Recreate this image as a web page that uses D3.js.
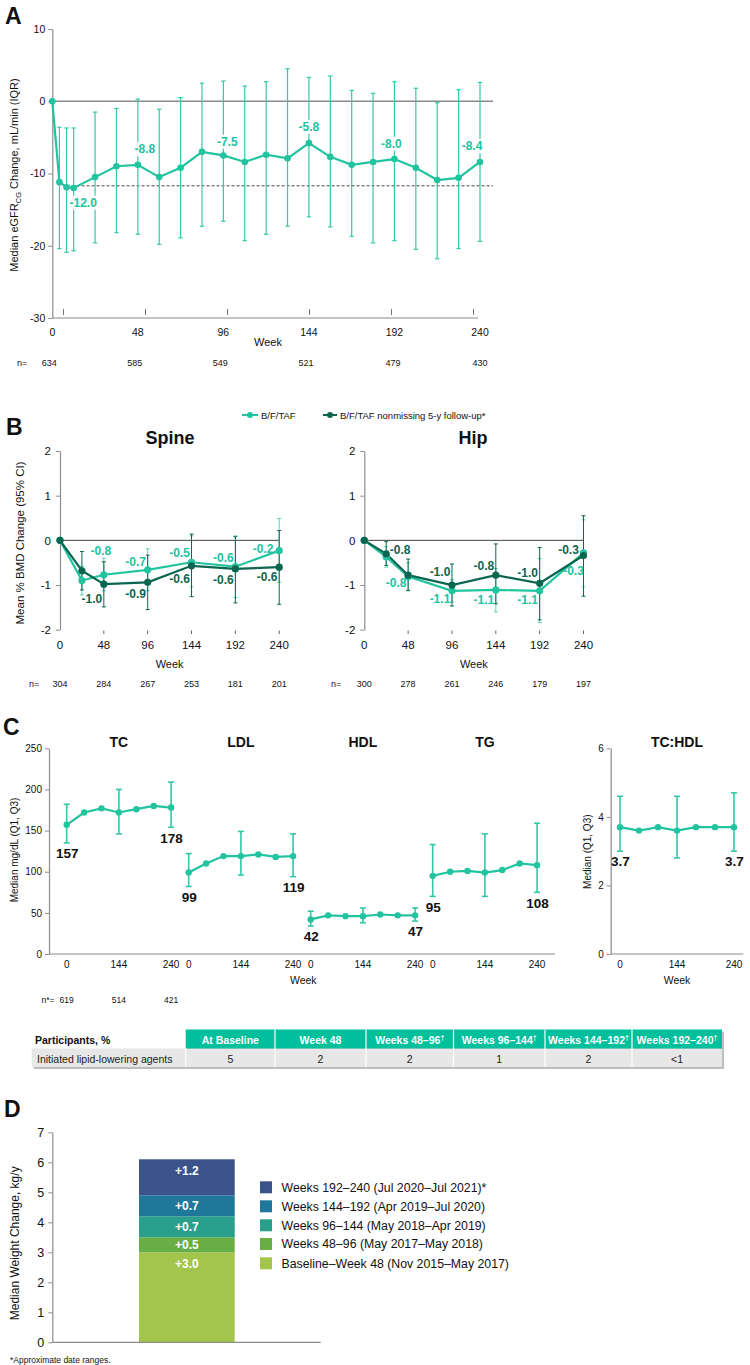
<!DOCTYPE html>
<html><head><meta charset="utf-8">
<script src="https://cdn.jsdelivr.net/npm/d3@7"></script>
<style>body{margin:0;background:#fff} svg text{font-family:"Liberation Sans",Arial,sans-serif}</style>
</head><body><svg id="c" width="750" height="1365"></svg>
<script>
// ---------- DATA ----------
// Panel A: eGFR
const weeksA = [0,4,8,12,24,36,48,60,72,84,96,108,120,132,144,156,168,180,192,204,216,228,240];
const medianA = [0,-11.2,-11.9,-12.0,-10.5,-9.0,-8.8,-10.5,-9.2,-7.0,-7.5,-8.4,-7.4,-7.9,-5.8,-7.7,-8.8,-8.4,-8.0,-9.2,-10.9,-10.6,-8.4];
const q1A = [null,-20.4,-20.9,-20.7,-19.6,-18.2,-18.4,-19.8,-18.9,-17.3,-16.6,-19.3,-18.4,-17.3,-16.0,-17.4,-18.7,-19.6,-19.3,-20.5,-21.8,-20.4,-19.4];
const q3A = [null,-3.6,-3.7,-3.7,-1.5,-1.0,0.3,-1.1,0.5,2.5,2.8,2.1,2.7,4.5,3.3,3.5,1.5,1.1,2.7,1.8,-0.2,1.6,2.6];
const refLineA = -11.7;
const labelWeeksA = [12,48,96,144,192,240];
const xTicksA = [0,48,96,144,192,240];
const yTicksA = [10,0,-10,-20,-30];
const nA = ["634","585","549","521","479","430"];

// Panel B: BMD
const weeksB = [0,24,48,96,144,192,240];
const seriesB = ["B/F/TAF","B/F/TAF nonmissing 5-y follow-up*"];
const spineAll = [0,-0.9,-0.77,-0.66,-0.49,-0.59,-0.23];
const spineAllLo = [null,-1.22,-1.13,-1.13,-1.04,-1.28,-0.94];
const spineAllHi = [null,-0.58,-0.4,-0.19,0.1,0.1,0.49];
const spine5y = [0,-0.68,-0.98,-0.94,-0.57,-0.64,-0.6];
const spine5yLo = [null,-1.11,-1.49,-1.55,-1.26,-1.4,-1.43];
const spine5yHi = [null,-0.25,-0.48,-0.33,0.14,0.08,0.22];
const hipAll = [0,-0.37,-0.81,-1.13,-1.11,-1.13,-0.28];
const hipAllLo = [null,-0.6,-1.13,-1.38,-1.6,-1.84,-1.04];
const hipAllHi = [null,-0.14,-0.5,-0.88,-0.63,-0.41,0.46];
const hip5y = [0,-0.3,-0.78,-1.0,-0.78,-0.96,-0.34];
const hip5yLo = [null,-0.56,-1.12,-1.47,-1.42,-1.78,-1.25];
const hip5yHi = [null,-0.03,-0.42,-0.53,-0.08,-0.16,0.55];
const xTicksB = [0,48,96,144,192,240];
const yTicksB = [2,1,0,-1,-2];
const nSpine = ["304","284","267","253","181","201"];
const nHip = ["300","278","261","246","179","197"];

// Panel C: lipids
const lipidNames = ["TC","LDL","HDL","TG"];
const lipidMedians = [
  [157,172,177,172,176,180,178],
  [99,110,119,119,121,118,119],
  [42,47,46,46,48,47,47],
  [95,100,101,99,102,110,108]
];
const lipidQ1 = [[135,146,154],[82,96,94],[34,38,40],[70,70,75]];
const lipidQ3 = [[182,200,209],[122,149,146],[52,56,56],[133,146,159]];
const ratioMedian = [3.7,3.6,3.7,3.6,3.7,3.7,3.7];
const ratioQ1 = [3.0,2.8,3.0];
const ratioQ3 = [4.6,4.6,4.7];
const barIdxC = [0,3,6];
const visitTicksC = ["0","144","240"];
const yTicksC = [0,50,100,150,200,250];
const yTicksRatio = [0,2,4,6];
const nC = ["619","514","421"];

// Table
const tableHeaders = ["At Baseline","Week 48","Weeks 48–96","Weeks 96–144","Weeks 144–192","Weeks 192–240"];
const tableDagger = [false,false,true,true,true,true];
const tableValues = ["5","2","2","1","2","<1"];

// Panel D: weight
const weightPeriods = ["Baseline–Week 48 (Nov 2015–May 2017)","Weeks 48–96 (May 2017–May 2018)","Weeks 96–144 (May 2018–Apr 2019)","Weeks 144–192 (Apr 2019–Jul 2020)","Weeks 192–240 (Jul 2020–Jul 2021)*"];
const weightValues = [3.0,0.5,0.7,0.7,1.2];
const yTicksD = [0,1,2,3,4,5,6,7];

// ---------- STYLE ----------
const TEAL = "#22c39f", TEAL_BAR = "#33c8a7", DARK = "#0b6650", AX = "#8c8c8c";
const weightColors = ["#a3c54b","#69ae45","#2a9f8b","#1f7899","#3b5389"];
const svg = d3.select("#c");
svg.append("rect").attr("width",750).attr("height",1365).attr("fill","#fff");
const fmt1 = v => v.toFixed(1);

function txt(g,x,y,s,o={}){
  const t = g.append("text").attr("x",x).attr("y",y).text(s)
    .attr("font-size",o.size||11).attr("fill",o.fill||"#111")
    .attr("text-anchor",o.anchor||"start");
  if(o.bold) t.attr("font-weight","bold");
  if(o.mid) t.attr("dy","0.35em");
  return t;
}
function styleAxis(sel,fs){
  sel.select(".domain").attr("stroke",AX).attr("stroke-width",1.2);
  sel.selectAll(".tick line").attr("stroke",AX);
  sel.selectAll(".tick text").attr("font-size",fs).attr("fill","#111")
     .style("font-family","'Liberation Sans',Arial,sans-serif");
}
function errBar(g,x,lo,hi,color,cap,sw){
  g.append("line").attr("x1",x).attr("x2",x).attr("y1",lo).attr("y2",hi).attr("stroke",color).attr("stroke-width",sw);
  [lo,hi].forEach(yy=>g.append("line").attr("x1",x-cap).attr("x2",x+cap).attr("y1",yy).attr("y2",yy).attr("stroke",color).attr("stroke-width",sw));
}

// ---------- PANEL A ----------
{
  const g = svg.append("g");
  const x = d3.scaleLinear().domain([0,240]).range([52.3,480]);
  const y = d3.scaleLinear().domain([-30,10]).range([318,29]);
  const tickX = d3.scaleLinear().domain([0,240]).range([63.5,473.5]);
  txt(g,5,24,"A",{size:23,bold:true});
  g.append("g").attr("transform","translate(52.3,0)")
    .call(d3.axisLeft(y).tickValues(yTicksA).tickFormat(d=>String(d)).tickSize(4).tickSizeOuter(0).tickPadding(3))
    .call(s=>styleAxis(s,10.5));
  g.append("line").attr("x1",52.3).attr("x2",478).attr("y1",y(-30)).attr("y2",y(-30)).attr("stroke",AX).attr("stroke-width",1.2);
  xTicksA.forEach(w=>{
    g.append("line").attr("x1",tickX(w)).attr("x2",tickX(w)).attr("y1",y(-30)-9).attr("y2",y(-30)-3).attr("stroke","#777");
    txt(g,x(w),336,String(w),{size:10.5,anchor:"middle"});
  });
  txt(g,268,345.5,"Week",{size:11,anchor:"middle"});
  txt(g,17,366,"n=",{size:9});
  xTicksA.forEach((w,i)=>txt(g,x(w)-3+ (i>3? (i-3)*1.5:0),366,nA[i],{size:9,anchor:"middle"}));
  // y label
  const yl = g.append("text").attr("transform","translate(18,175) rotate(-90)").attr("text-anchor","middle").attr("font-size",11).attr("fill","#111");
  yl.append("tspan").text("Median eGFR");
  yl.append("tspan").text("CG").attr("font-size",7.5).attr("dy",2.5);
  yl.append("tspan").text(" Change, mL/min (IQR)").attr("dy",-2.5);
  // zero & ref lines
  g.append("line").attr("x1",52.3).attr("x2",493).attr("y1",y(0)).attr("y2",y(0)).attr("stroke","#8a8a8a").attr("stroke-width",1.6);
  g.append("line").attr("x1",x(8)).attr("x2",493).attr("y1",y(refLineA)).attr("y2",y(refLineA)).attr("stroke","#333").attr("stroke-width",0.9).attr("stroke-dasharray","3,2");
  // error bars
  weeksA.forEach((w,i)=>{ if(q1A[i]!==null) errBar(g,x(w),y(q1A[i]),y(q3A[i]),TEAL_BAR,2.2,1.2); });
  // labels with white backgrounds
  const offs = [[9.5,14.5],[7,-15.7],[4,-14],[0,-16.6],[-3,-15.4],[-8,-16]];
  const lg = g.append("g");
  labelWeeksA.forEach((w,k)=>{
    const i = weeksA.indexOf(w);
    const t = txt(lg,x(w)+offs[k][0],y(medianA[i])+offs[k][1],fmt1(medianA[i]),{size:12,bold:true,fill:TEAL,anchor:"middle",mid:true});
    const b = t.node().getBBox();
    lg.insert("rect","text").attr("x",b.x-1).attr("y",b.y).attr("width",b.width+2).attr("height",b.height).attr("fill","#fff");
  });
  const line = d3.line().x((d,i)=>x(weeksA[i])).y(d=>y(d));
  g.append("path").datum(medianA).attr("d",line).attr("fill","none").attr("stroke",TEAL).attr("stroke-width",2.2);
  g.selectAll(".ptA").data(medianA).join("circle").attr("cx",(d,i)=>x(weeksA[i])).attr("cy",d=>y(d)).attr("r",3.3).attr("fill",TEAL);
  lg.raise();
}

// ---------- PANEL B ----------
{
  const g = svg.append("g");
  txt(g,6,435,"B",{size:23,bold:true});
  // legend
  const legX = [[242,258,261],[323,337,340]];
  const legC = [TEAL,DARK];
  seriesB.forEach((s,i)=>{
    g.append("line").attr("x1",legX[i][0]).attr("x2",legX[i][1]).attr("y1",415).attr("y2",415).attr("stroke",legC[i]).attr("stroke-width",2);
    g.append("circle").attr("cx",(legX[i][0]+legX[i][1])/2).attr("cy",415).attr("r",3).attr("fill",legC[i]);
    txt(g,legX[i][2],418.5,s,{size:9.5});
  });
  const y = d3.scaleLinear().domain([-2,2]).range([629.7,451]);
  const txtLbl = v => fmt1(v);
  function panel(x0,title,all,allLo,allHi,fy,fyLo,fyHi,nArr,nX,offAll,off5,titleX){
    const x = d3.scaleLinear().domain([0,240]).range([x0,x0+219.2]);
    txt(g,titleX,444,title,{size:18,bold:true,anchor:"middle"});
    g.append("g").attr("transform",`translate(${x0},0)`)
      .call(d3.axisLeft(y).tickValues(yTicksB).tickFormat(d=>String(d)).tickSize(4).tickSizeOuter(0).tickPadding(5))
      .call(s=>styleAxis(s,11.5));
    xTicksB.forEach(w=>{
      if(w>0) g.append("line").attr("x1",x(w)).attr("x2",x(w)).attr("y1",630.5).attr("y2",634).attr("stroke","#666");
      txt(g,x(w),648.5,String(w),{size:11.5,anchor:"middle"});
    });
    txt(g,(x(0)+x(240))/2,667.5,"Week",{size:11,anchor:"middle"});
    txt(g,nX,686.5,"n=",{size:9});
    xTicksB.forEach((w,i)=>txt(g,x(w),686.5,nArr[i],{size:9,anchor:"middle"}));
    g.append("line").attr("x1",x0).attr("x2",x(240)).attr("y1",y(0)).attr("y2",y(0)).attr("stroke","#444").attr("stroke-width",1);
    weeksB.forEach((w,i)=>{
      if(allLo[i]!==null) errBar(g,x(w),y(allLo[i]),y(allHi[i]),"#5fcfb5",2,1);
      if(fyLo[i]!==null) errBar(g,x(w),y(fyLo[i]),y(fyHi[i]),DARK,2,1);
    });
    const line = d3.line().x((d,i)=>x(weeksB[i])).y(d=>y(d));
    g.append("path").datum(all).attr("d",line).attr("fill","none").attr("stroke",TEAL).attr("stroke-width",2.2);
    g.append("path").datum(fy).attr("d",line).attr("fill","none").attr("stroke",DARK).attr("stroke-width",2.2);
    all.forEach((d,i)=>g.append("circle").attr("cx",x(weeksB[i])).attr("cy",y(d)).attr("r",3.6).attr("fill",TEAL));
    fy.forEach((d,i)=>g.append("circle").attr("cx",x(weeksB[i])).attr("cy",y(d)).attr("r",3.6).attr("fill",DARK));
    weeksB.forEach((w,i)=>{
      if(i<2) return;
      const k=i-2;
      txt(g,x(w)+offAll[k][0],y(all[i])+offAll[k][1],txtLbl(all[i]),{size:12,bold:true,fill:TEAL,anchor:"middle",mid:true});
      txt(g,x(w)+off5[k][0],y(fy[i])+off5[k][1],txtLbl(fy[i]),{size:12,bold:true,fill:DARK,anchor:"middle",mid:true});
    });
  }
  panel(60,"Spine",spineAll,spineAllLo,spineAllHi,spine5y,spine5yLo,spine5yHi,nSpine,29,
    [[-3,-24],[-12,-8],[-12,-9],[-12,-9],[-16,-2]],
    [[-12,15],[-12,11],[-12,13],[-12,11],[-12,10]],170);
  panel(364.3,"Hip",hipAll,hipAllLo,hipAllHi,hip5y,hip5yLo,hip5yHi,nHip,331,
    [[-12,6],[-12,8],[-12,10],[-12,9],[-10,18]],
    [[-8,-25],[-12,-13],[-12,-9],[-12,-10],[-15,-6]],473);
  // B y label
  g.append("text").attr("transform","translate(24,543) rotate(-90)").attr("text-anchor","middle").attr("font-size",11.5).attr("fill","#111").text("Mean % BMD Change (95% CI)");
}

// ---------- PANEL C ----------
{
  const g = svg.append("g");
  txt(g,3,735,"C",{size:23,bold:true});
  const y = d3.scaleLinear().domain([0,250]).range([954,748.3]);
  g.append("g").attr("transform","translate(49,0)")
    .call(d3.axisLeft(y).tickValues(yTicksC).tickFormat(d=>String(d)).tickSize(4).tickSizeOuter(0).tickPadding(3))
    .call(s=>styleAxis(s,10));
  g.append("line").attr("x1",49).attr("x2",555).attr("y1",954).attr("y2",954).attr("stroke",AX).attr("stroke-width",1.2);
  g.append("text").attr("transform","translate(18,850) rotate(-90)").attr("text-anchor","middle").attr("font-size",10).attr("fill","#111").text("Median mg/dL (Q1, Q3)");
  const drawSeries = (x,yS,vals,q1,q3,fmt)=>{
    barIdxC.forEach((idx,j)=>errBar(g,x(idx),yS(q1[j]),yS(q3[j]),TEAL_BAR,3,1.6));
    const line = d3.line().x((d,i)=>x(i)).y(d=>yS(d));
    g.append("path").datum(vals).attr("d",line).attr("fill","none").attr("stroke",TEAL).attr("stroke-width",2.2);
    vals.forEach((d,i)=>g.append("circle").attr("cx",x(i)).attr("cy",yS(d)).attr("r",3.2).attr("fill",TEAL));
    [0,6].forEach((idx,j)=>{
      const qj = j===0?0:2;
      txt(g,x(idx)+0.5,yS(q1[qj])+10.5,fmt(vals[idx]),{size:13.5,bold:true,anchor:"middle",mid:true});
    });
    visitTicksC.forEach((t,j)=>txt(g,x(barIdxC[j]),967.5,t,{size:10,anchor:"middle"}));
  };
  lipidNames.forEach((nm,k)=>{
    const x = d3.scaleLinear().domain([0,6]).range([66.7+122*k,171.1+122*k]);
    txt(g,(x(0)+x(6))/2,746.5,nm,{size:14,bold:true,anchor:"middle"});
    drawSeries(x,y,lipidMedians[k],lipidQ1[k],lipidQ3[k],v=>String(v));
    if(k===0){
      txt(g,41.5,1002.5,"n*=",{size:8.5});
      barIdxC.forEach((idx,j)=>txt(g,x(idx),1002.5,nC[j],{size:8.5,anchor:"middle"}));
    }
  });
  txt(g,303.3,983.5,"Week",{size:10.5,anchor:"middle"});
  // ratio
  const yR = d3.scaleLinear().domain([0,6]).range([954,748.3]);
  const xR = d3.scaleLinear().domain([0,6]).range([620,734]);
  g.append("g").attr("transform","translate(610.7,0)")
    .call(d3.axisLeft(yR).tickValues(yTicksRatio).tickFormat(d=>String(d)).tickSize(4).tickSizeOuter(0).tickPadding(3))
    .call(s=>styleAxis(s,10));
  g.append("line").attr("x1",610.7).attr("x2",743.3).attr("y1",954).attr("y2",954).attr("stroke",AX).attr("stroke-width",1.2);
  txt(g,677,746.5,"TC:HDL",{size:14,bold:true,anchor:"middle"});
  drawSeries(xR,yR,ratioMedian,ratioQ1,ratioQ3,v=>v.toFixed(1));
  txt(g,677,983.5,"Week",{size:10.5,anchor:"middle"});
  g.append("text").attr("transform","translate(591,851.7) rotate(-90)").attr("text-anchor","middle").attr("font-size",10).attr("fill","#111").text("Median (Q1, Q3)");
}

// ---------- TABLE ----------
{
  const g = svg.append("g");
  const edges = [185.7,275,366,453.5,545,632,722];
  const left = 31.7, top = 1029.5, mid = 1048.5, bot = 1067;
  // shadow
  g.append("rect").attr("x",left+2).attr("y",mid+2).attr("width",edges[6]-left).attr("height",bot-mid).attr("fill","#bdbdbd");
  g.append("rect").attr("x",edges[0]+2).attr("y",top+2).attr("width",edges[6]-edges[0]).attr("height",mid-top).attr("fill","#bdbdbd");
  g.append("rect").attr("x",left).attr("y",mid).attr("width",edges[6]-left).attr("height",bot-mid).attr("fill","#e7e7e7");
  txt(g,35,1044,"Participants, %",{size:10.5,bold:true});
  txt(g,37,1062.5,"Initiated lipid-lowering agents",{size:10.5,fill:"#222"});
  tableHeaders.forEach((h,i)=>{
    g.append("rect").attr("x",edges[i]).attr("y",top).attr("width",edges[i+1]-edges[i]).attr("height",mid-top).attr("fill","#00bf9c");
    const cx = (edges[i]+edges[i+1])/2;
    const t = txt(g,cx,1043.5,h,{size:10.5,bold:true,fill:"#fff",anchor:"middle"});
    if(tableDagger[i]) t.append("tspan").text("†").attr("font-size",7).attr("dy",-4);
    txt(g,cx,1062.5,tableValues[i],{size:10.5,fill:"#222",anchor:"middle"});
  });
  edges.slice(0,6).forEach((e,i)=>{ if(i>0){
    g.append("line").attr("x1",e).attr("x2",e).attr("y1",top).attr("y2",bot).attr("stroke","#fff").attr("stroke-width",1.2);
  }});
  g.append("line").attr("x1",edges[0]).attr("x2",edges[0]).attr("y1",mid).attr("y2",bot).attr("stroke","#fff").attr("stroke-width",1.2);
}

// ---------- PANEL D ----------
{
  const g = svg.append("g");
  txt(g,4,1117,"D",{size:23,bold:true});
  const y = d3.scaleLinear().domain([0,7]).range([1342.3,1132.3]);
  g.append("g").attr("transform","translate(52.3,0)")
    .call(d3.axisLeft(y).tickValues(yTicksD).tickFormat(d=>String(d)).tickSize(4).tickSizeOuter(0).tickPadding(4))
    .call(s=>styleAxis(s,12.5));
  g.append("text").attr("transform","translate(19,1243.3) rotate(-90)").attr("text-anchor","middle").attr("font-size",12).attr("fill","#111").text("Median Weight Change, kg/y");
  const ends = d3.cumsum(weightValues);
  const x = d3.scaleBand().domain(["All"]).range([52.3,321.4]).paddingInner(0).paddingOuter(0.906);
  const bx = x("All"), bw = x.bandwidth();
  weightValues.forEach((v,i)=>{
    const y0 = ends[i]-v, y1 = ends[i];
    g.append("rect").attr("x",bx).attr("width",bw).attr("y",y(y1)).attr("height",y(y0)-y(y1)).attr("fill",weightColors[i]);
    const cy = Math.min((y(y0)+y(y1))/2, y(y1)+11);
    txt(g,bx+bw/2,cy,"+"+v.toFixed(1),{size:12,bold:true,fill:"#fff",anchor:"middle",mid:true});
  });
  g.append("line").attr("x1",52.3).attr("x2",320.7).attr("y1",y(0)).attr("y2",y(0)).attr("stroke",AX).attr("stroke-width",1.2);
  // legend (top = last period)
  const order = d3.range(weightPeriods.length).reverse();
  const rowY = [1187.3,1206.3,1225.3,1244,1263.3];
  order.forEach((idx,r)=>{
    g.append("rect").attr("x",260).attr("y",rowY[r]-6).attr("width",12).attr("height",12).attr("fill",weightColors[idx]);
    txt(g,281.5,rowY[r],weightPeriods[idx],{size:12.3,fill:"#111",mid:true});
  });
  txt(g,10,1363,"*Approximate date ranges.",{size:8.5});
}
</script></body></html>
